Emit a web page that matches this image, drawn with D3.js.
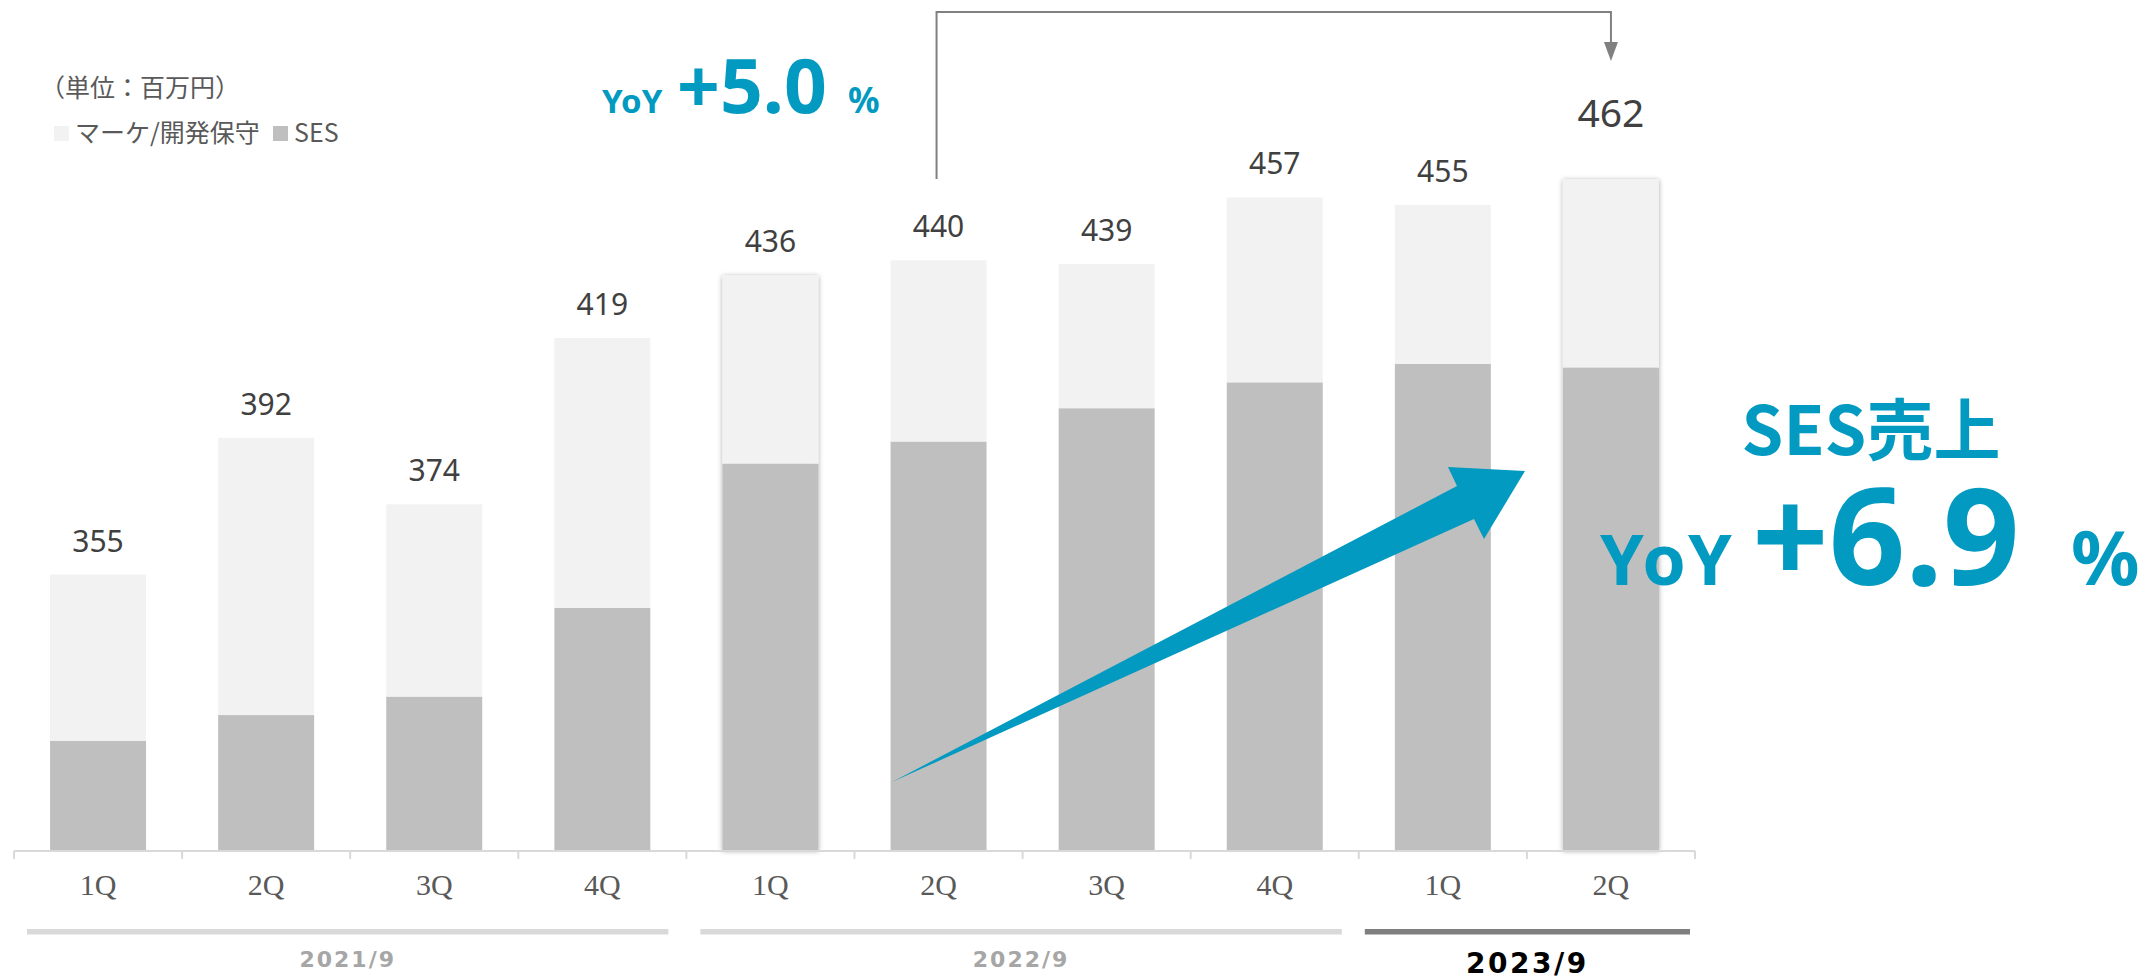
<!DOCTYPE html>
<html><head><meta charset="utf-8">
<script src="https://cdn.jsdelivr.net/npm/d3@7/dist/d3.min.js"></script>
<style>body{margin:0;background:#fff;overflow:hidden}</style>
</head><body>
<script>
// ---- data ----
const categories = ["1Q","2Q","3Q","4Q","1Q","2Q","3Q","4Q","1Q","2Q"];
const totalLabels = [355,392,374,419,436,440,439,457,455,462];
const sesValues   = [310,317,322,346,385,391,400,407,412,411];
const markeValues = [45,75,52,73,51,49,39,50,43,51];
const yearLabels  = ["2021/9","2022/9","2023/9"];
const yearStart   = [0,4,8];
const yearEnd     = [3,7,9];
const seriesNames = ["マーケ/開発保守","SES"];
const unitLabel   = "（単位：百万円）";
const yoyTotal    = "5.0";
const yoySes      = "6.9";

// ---- layout ----
const W = 2147, H = 980;
const BLUE = "#029ac0";
const svg = d3.select("body").append("svg").attr("width", W).attr("height", H)
  .style("font-family", "'Noto Sans CJK JP','Noto Sans',sans-serif");

const defs = svg.append("defs");
const f = defs.append("filter").attr("id","sh").attr("x","-20%").attr("y","-5%").attr("width","140%").attr("height","110%");
f.append("feDropShadow").attr("dx",0).attr("dy",1).attr("stdDeviation",2.5).attr("flood-color","#000").attr("flood-opacity",0.35);

const idx = d3.range(categories.length);
const x = d3.scaleBand().domain(idx).range([14, 1695]).paddingInner(0.429).paddingOuter(0.2145);
const y = d3.scaleLinear().domain([280.5, 462]).range([850, 179]).clamp(true);
const step = x.step();
const bandStart = i => 14 + i * step;
const bandCenter = i => x(i) + x.bandwidth() / 2;

const stacked = d3.stack().keys(["ses","marke"])(idx.map(i => ({ses: sesValues[i], marke: markeValues[i]})));
const colors = {ses: "#bfbfbf", marke: "#f2f2f2"};

// bars
const shadowed = new Set([4, 9]);
const gBars = svg.append("g");
idx.forEach(i => {
  const g = gBars.append("g");
  if (shadowed.has(i)) g.attr("filter", "url(#sh)");
  stacked.forEach(layer => {
    const d = layer[i];
    const y0 = y(d[0]), y1 = y(d[1]);
    g.append("rect").attr("x", x(i)).attr("width", x.bandwidth())
      .attr("y", y1).attr("height", Math.max(0, y0 - y1))
      .attr("fill", colors[layer.key]);
  });
});

// axis line & ticks
const axisG = svg.append("g");
axisG.append("line").attr("x1", 14).attr("x2", 1695).attr("y1", 851).attr("y2", 851)
  .attr("stroke", "#d9d9d9").attr("stroke-width", 2);
d3.range(categories.length + 1).forEach(i => {
  axisG.append("line").attr("x1", bandStart(i)).attr("x2", bandStart(i)).attr("y1", 851).attr("y2", 859)
    .attr("stroke", "#d9d9d9").attr("stroke-width", 2);
});
axisG.selectAll("text.cat").data(idx).enter().append("text")
  .attr("x", i => bandCenter(i)).attr("y", 895).attr("text-anchor", "middle")
  .style("font-family", "'Liberation Serif','DejaVu Serif',serif").style("font-size", "30px")
  .attr("fill", "#595959").text(i => categories[i]);

// value labels
svg.selectAll("text.val").data(idx).enter().append("text")
  .attr("x", i => bandCenter(i))
  .attr("y", i => i === 9 ? y(totalLabels[i]) - 52 : y(totalLabels[i]) - 23)
  .attr("text-anchor", "middle")
  .style("font-family", "'Noto Sans',sans-serif")
  .style("font-size", i => i === 9 ? "39px" : "30px")
  .attr("fill", "#404040").text(i => totalLabels[i]);

// fiscal year bars
const insets = [[13, 18], [14, 17], [6, 5]];
yearLabels.forEach((lab, k) => {
  const x0 = bandStart(yearStart[k]) + insets[k][0];
  const x1 = bandStart(yearEnd[k] + 1) - insets[k][1];
  const last = k === yearLabels.length - 1;
  svg.append("rect").attr("x", x0).attr("y", 929).attr("width", x1 - x0).attr("height", 5.5)
    .attr("fill", last ? "#7f7f7f" : "#d9d9d9");
  svg.append("text").attr("x", (x0 + x1) / 2).attr("y", last ? 973 : 967).attr("text-anchor", "middle")
    .style("font-family", "'DejaVu Sans',sans-serif").style("font-weight", "bold")
    .style("font-size", last ? "28px" : "22px").style("letter-spacing", last ? "2.5px" : "2px")
    .attr("fill", last ? "#000" : "#a6a6a6").text(lab);
});

// legend
svg.append("text").attr("x", 40).attr("y", 97).style("font-size", "25px").attr("fill", "#595959").text(unitLabel);
const legX = [54, 273];
const legKeys = ["marke", "ses"];
seriesNames.forEach((n, k) => {
  svg.append("rect").attr("x", legX[k]).attr("y", 126).attr("width", 15).attr("height", 15).attr("fill", colors[legKeys[k]]);
  svg.append("text").attr("x", legX[k] + 21).attr("y", 142).style("font-size", "25px").attr("fill", "#595959").text(n);
});

// bracket annotation (total YoY)
const bx0 = bandCenter(5) - 2, bx1 = bandCenter(9);
svg.append("path").attr("d", `M${bx0},${y(totalLabels[9])} V12 H${bx1} V46`)
  .attr("fill", "none").attr("stroke", "#808080").attr("stroke-width", 2);
svg.append("path").attr("d", `M${bx1 - 7},42 L${bx1 + 7},42 L${bx1},61 Z`).attr("fill", "#808080");

const t1 = svg.append("text").attr("y", 113).attr("fill", BLUE).style("font-weight", "bold")
  .style("font-family", "'Noto Sans',sans-serif");
t1.append("tspan").attr("x", 602).style("font-size", "33px").text("YoY");
t1.append("tspan").attr("x", 677).style("font-size", "75px").text("+" + yoyTotal);
t1.append("tspan").attr("x", 848).style("font-size", "35px").text("%");

// SES annotation
svg.append("text").attr("x", 1871).attr("y", 455).attr("text-anchor", "middle").attr("fill", BLUE)
  .style("font-weight", "bold").style("font-size", "67px").text("SES売上");
const t2 = svg.append("text").attr("y", 585).attr("fill", BLUE).style("font-weight", "bold")
  .style("font-family", "'Noto Sans',sans-serif");
t2.append("tspan").attr("x", 1600).style("font-size", "70px").style("letter-spacing", "2px").text("YoY");
t2.append("tspan").attr("x", 1752).style("font-size", "134px").text("+" + yoySes);
t2.append("tspan").attr("x", 2071).style("font-size", "76px").text("%");

// big arrow
const arrowPts = [[892, 782], [1457, 486], [1448, 467], [1525, 471], [1484, 539], [1474, 519]];
svg.append("path").attr("d", d3.line()(arrowPts) + "Z").attr("fill", BLUE);
</script>
</body></html>
